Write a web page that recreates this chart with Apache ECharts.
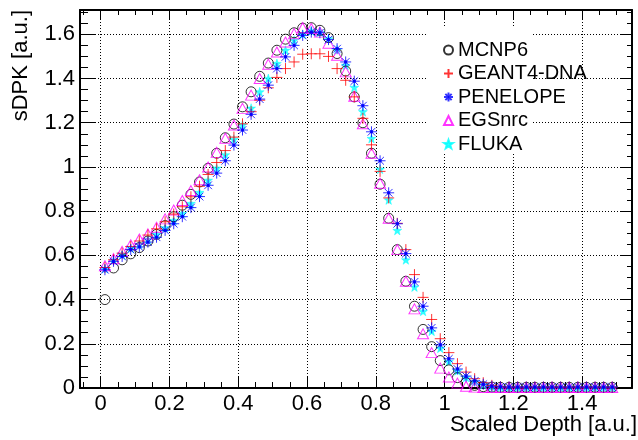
<!DOCTYPE html>
<html>
<head>
<meta charset="utf-8">
<script src="https://cdn.jsdelivr.net/npm/echarts@6/dist/echarts.min.js"></script>
<style>
html,body{margin:0;padding:0;background:#fff;}
#chart{width:638px;height:440px;}
</style>
</head>
<body>
<div id="chart"></div>
<script>
// ---- data ----
var depth = [0.0125,0.0375,0.0625,0.0875,0.1125,0.1375,0.1625,0.1875,0.2125,0.2375,
             0.2625,0.2875,0.3125,0.3375,0.3625,0.3875,0.4125,0.4375,0.4625,0.4875,
             0.5125,0.5375,0.5625,0.5875,0.6125,0.6375,0.6625,0.6875,0.7125,0.7375,
             0.7625,0.7875,0.8125,0.8375,0.8625,0.8875,0.9125,0.9375,0.9625,0.9875,
             1.0125,1.0375,1.0625,1.0875,1.1125,1.1375,1.1625,1.1875,1.2125,1.2375,
             1.2625,1.2875,1.3125,1.3375,1.3625,1.3875,1.4125,1.4375,1.4625,1.4875];

var mcnp6 = [0.40,0.543,0.58,0.607,0.635,0.665,0.695,0.735,0.775,0.827,
             0.876,0.932,0.994,1.062,1.132,1.194,1.272,1.34,1.41,1.47,
             1.528,1.578,1.607,1.628,1.63,1.618,1.585,1.513,1.434,1.317,
             1.2,1.062,0.922,0.768,0.626,0.483,0.37,0.265,0.187,0.124,
             0.082,0.047,0.024,0.012,0.006,0.004,0.003,0.003,0.003,0.003,
             0.003,0.003,0.003,0.003,0.003,0.003,0.003,0.003,0.003,0.003];

var geant4dna = [0.545,0.58,0.61,0.64,0.665,0.692,0.72,0.752,0.787,0.82,
                 0.865,0.913,0.966,1.02,1.074,1.135,1.195,1.25,1.302,1.358,
                 1.405,1.445,1.475,1.51,1.512,1.512,1.5,1.445,1.392,1.317,
                 1.22,1.1,0.98,0.86,0.745,0.626,0.513,0.41,0.31,0.223,
                 0.16,0.11,0.072,0.042,0.024,0.012,0.006,0.004,0.004,0.004,
                 0.004,0.004,0.004,0.004,0.004,0.004,0.004,0.004,0.004,0.004];

var penelope = [0.535,0.573,0.595,0.626,0.638,0.66,0.682,0.713,0.743,0.775,
                0.816,0.866,0.917,0.972,1.028,1.099,1.167,1.238,1.307,1.37,
                1.445,1.498,1.55,1.595,1.61,1.607,1.576,1.535,1.475,1.388,
                1.277,1.159,1.028,0.883,0.743,0.608,0.48,0.37,0.272,0.195,
                0.132,0.086,0.054,0.032,0.017,0.008,0.005,0.004,0.004,0.004,
                0.004,0.004,0.004,0.004,0.004,0.004,0.004,0.004,0.004,0.004];

var egsnrc = [0.553,0.585,0.618,0.648,0.674,0.697,0.727,0.765,0.805,0.848,
              0.893,0.942,1.0,1.066,1.13,1.19,1.265,1.325,1.40,1.465,
              1.52,1.565,1.603,1.63,1.626,1.61,1.56,1.505,1.43,1.32,
              1.195,1.062,0.926,0.768,0.626,0.483,0.358,0.245,0.16,0.09,
              0.05,0.022,0.008,0.004,0.002,0.002,0.002,0.002,0.002,0.002,
              0.002,0.002,0.002,0.002,0.002,0.002,0.002,0.002,0.002,0.002];

var fluka = [0.54,0.578,0.603,0.632,0.65,0.672,0.695,0.725,0.758,0.79,
             0.835,0.885,0.94,0.995,1.055,1.125,1.19,1.266,1.34,1.40,
             1.468,1.528,1.573,1.60,1.615,1.61,1.58,1.53,1.46,1.36,
             1.25,1.129,0.99,0.851,0.713,0.58,0.457,0.347,0.257,0.18,
             0.12,0.078,0.048,0.028,0.014,0.007,0.004,0.003,0.003,0.003,
             0.003,0.003,0.003,0.003,0.003,0.003,0.003,0.003,0.003,0.003];

var seriesNames = ['MCNP6','GEANT4-DNA','PENELOPE','EGSnrc','FLUKA'];
var xTitle = 'Scaled Depth [a.u.]';
var yTitle = 'sDPK [a.u.]';

// ---- chart ----
function pairs(ys){ return ys.map(function(y,i){ return [depth[i], y]; }); }

var FONT = '"Liberation Sans", Arial, Helvetica, sans-serif';
var plusPath = 'path://M0,5L10,5M5,0L5,10';
var asteriskPath = 'path://M0,5L10,5M5,0L5,10M1.5,1.5L8.5,8.5M1.5,8.5L8.5,1.5M4,4L6,4L6,6L4,6Z';
var starPath = 'path://M5,0L6.176,3.382L9.755,3.455L6.902,5.618L7.939,9.045L5,7L2.061,9.045L3.098,5.618L0.245,3.455L3.824,3.382Z';
var clear = 'rgba(0,0,0,0)';

var dotted = {color:'#000', width:1, type:[1,2]};

function xAx(pos, tickLen, minorLen, labels){
  return {
    type:'value', position:pos, min:-0.06, max:1.545, splitNumber:8,
    axisLine:{show:true, onZero:false, lineStyle:{color:'#000', width:2}},
    axisTick:{show:true, inside:true, length:tickLen, lineStyle:{color:'#000', width:1}},
    minorTick:{show:true, splitNumber:4, length:minorLen, lineStyle:{color:'#000', width:1}},
    axisLabel:{show:labels, fontSize:22, fontFamily:FONT, color:'#000', margin:5,
               showMinLabel:false, showMaxLabel:false},
    splitLine:{show:labels, lineStyle:dotted},
    minorSplitLine:{show:false}
  };
}
function yAx(pos, tickLen, minorLen, labels){
  return {
    type:'value', position:pos, min:0, max:1.71, interval:0.2,
    axisLine:{show:true, onZero:false, lineStyle:{color:'#000', width:2}},
    axisTick:{show:true, inside:true, length:tickLen, lineStyle:{color:'#000', width:1}},
    minorTick:{show:true, splitNumber:4, length:minorLen, lineStyle:{color:'#000', width:1}},
    axisLabel:{show:labels, fontSize:22, fontFamily:FONT, color:'#000', margin:5,
               showMaxLabel:false},
    splitLine:{show:labels, lineStyle:dotted},
    minorSplitLine:{show:false}
  };
}

var chart = echarts.init(document.getElementById('chart'), null, {renderer:'canvas'});
chart.setOption({
  animation:false,
  backgroundColor:'#fff',
  grid:{left:80, right:6, top:10, bottom:52, containLabel:false},
  xAxis:[xAx('bottom',11,6,true), xAx('top',10,5,false)],
  yAxis:[yAx('left',15,8,true), yAx('right',11,5,false)],
  legend:{
    orient:'vertical', left:438, top:35, itemWidth:9, itemHeight:9, itemGap:3.5,
    data:seriesNames, selectedMode:false,
    textStyle:{fontSize:20, fontFamily:FONT, color:'#000'}
  },
  graphic:[
    {type:'rect', z:1, silent:true, shape:{x:428, y:27, width:105, height:126}, style:{fill:'#fff'}},
    {type:'text', silent:true, x:637, y:425,
     style:{text:xTitle, font:'22px ' + FONT, fill:'#000', align:'right', verticalAlign:'middle'}},
    {type:'text', silent:true, x:21, y:10, rotation:Math.PI/2,
     style:{text:yTitle, font:'22px ' + FONT, fill:'#000', align:'right', verticalAlign:'middle'}}
  ],
  series:[
    {name:seriesNames[0], type:'scatter', data:pairs(mcnp6), symbol:'circle', symbolSize:10, z:3,
     itemStyle:{color:clear, borderColor:'#000', borderWidth:1}, silent:true},
    {name:seriesNames[1], type:'scatter', data:pairs(geant4dna), symbol:plusPath, symbolSize:11, z:4,
     itemStyle:{color:'#ff0000', borderColor:'#ff0000', borderWidth:1}, silent:true},
    {name:seriesNames[2], type:'scatter', data:pairs(penelope), symbol:asteriskPath, symbolSize:11, z:6,
     itemStyle:{color:'#0000ff', borderColor:'#0000ff', borderWidth:1}, silent:true},
    {name:seriesNames[3], type:'scatter', data:pairs(egsnrc), symbol:'triangle', symbolSize:[11,10], z:3,
     itemStyle:{color:clear, borderColor:'#ff00ff', borderWidth:1}, silent:true},
    {name:seriesNames[4], type:'scatter', data:pairs(fluka), symbol:starPath, symbolSize:9, z:2,
     itemStyle:{color:'#00ffff', borderColor:'#00ffff', borderWidth:0.5}, silent:true}
  ]
});
</script>
</body>
</html>
